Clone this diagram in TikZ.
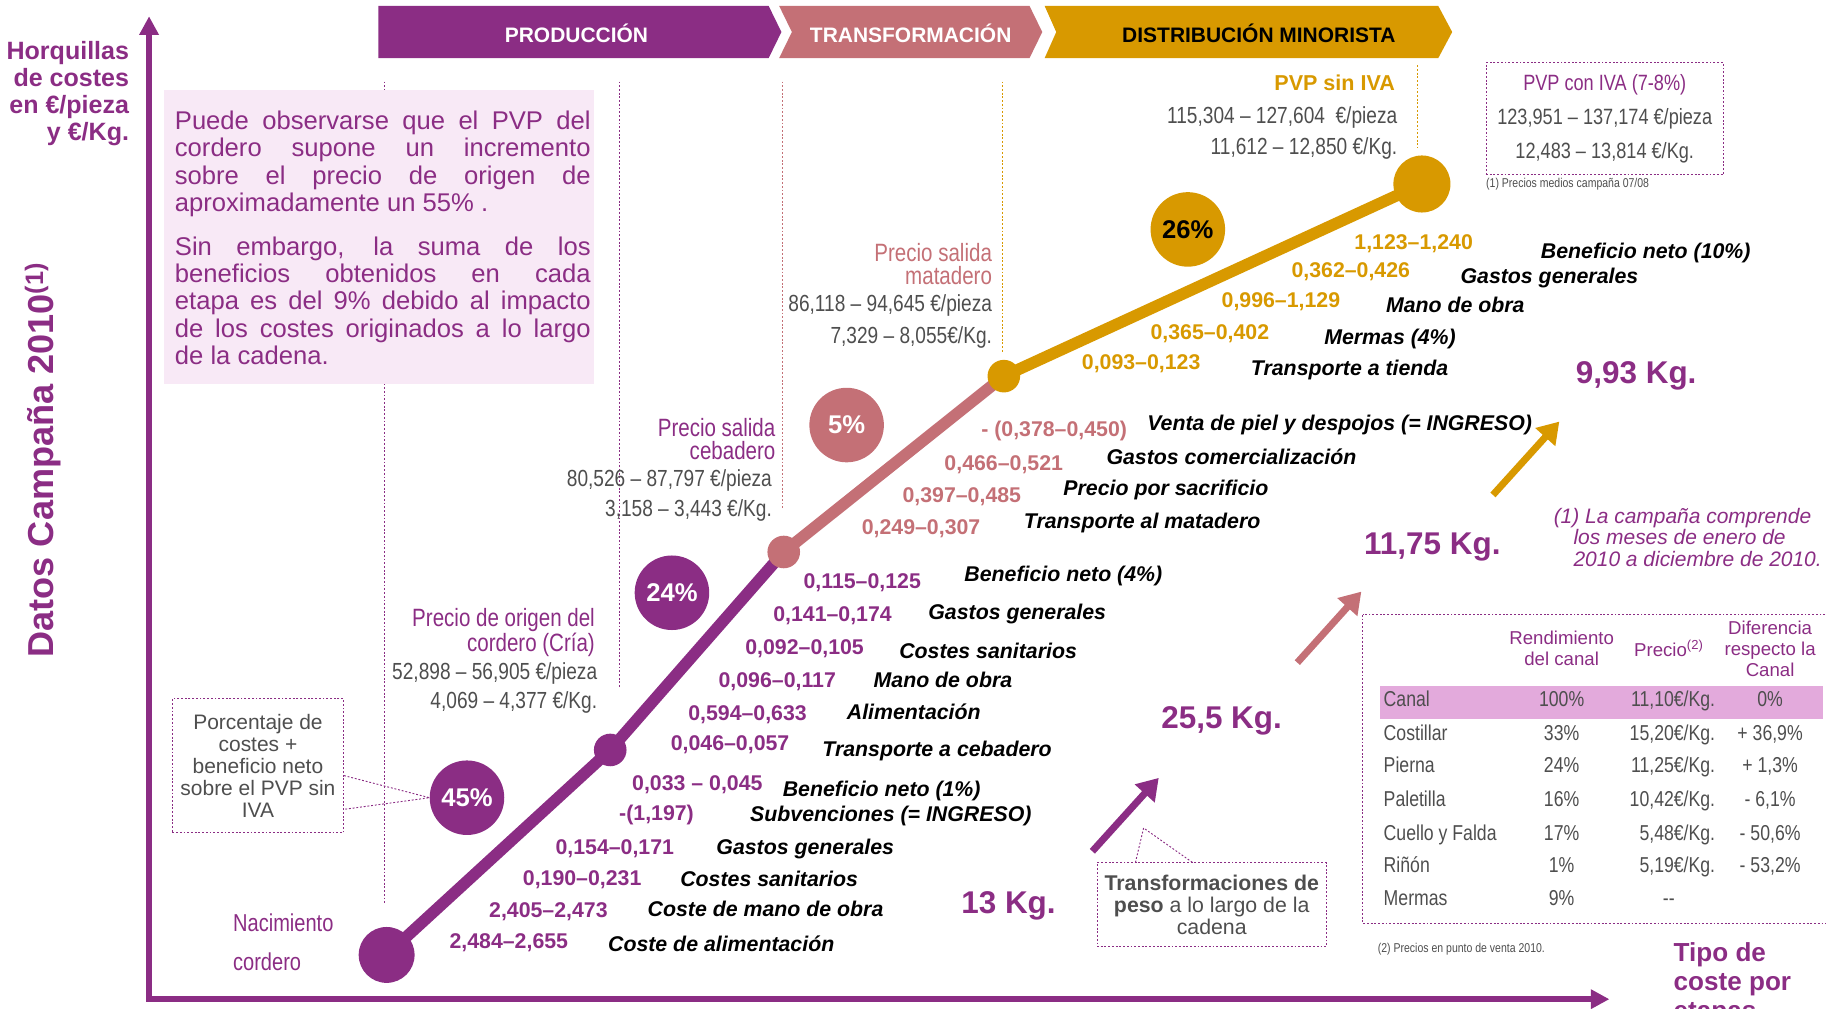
\documentclass[tikz,border=0pt]{standalone}
\usepackage{fontspec}
\setmainfont{Liberation Sans}
\newfontfamily\narrow[FakeStretch=0.82]{Liberation Sans}
\usetikzlibrary{arrows.meta}
\definecolor{lila}{RGB}{139,45,132}
\definecolor{rosa}{RGB}{196,112,118}
\definecolor{oro}{RGB}{216,153,0}
\definecolor{gris}{RGB}{78,78,78}
\definecolor{fondo}{RGB}{248,233,246}
\definecolor{resalte}{RGB}{227,170,220}

\begin{document}
\begin{tikzpicture}[x=1pt, y=-1pt,
    num/.style={font=\bfseries\fontsize{18.3}{20}\selectfont, inner sep=0pt, anchor=mid east},
    lab/.style={font=\bfseries\itshape\fontsize{18.3}{20}\selectfont, inner sep=0pt, anchor=mid west},
    dato/.style={font=\narrow\fontsize{20}{22}\selectfont, text=gris, inner sep=0pt, anchor=mid east},
    etiq/.style={font=\narrow\fontsize{21.5}{20}\selectfont, align=right, inner sep=0pt, anchor=east},
    pct/.style={circle, minimum size=64pt, inner sep=0pt, font=\bfseries\fontsize{22}{24}\selectfont},
    punto/.style={circle, inner sep=0pt},
    kg/.style={font=\bfseries\fontsize{27}{30}\selectfont, text=lila, inner sep=0pt},
    flecha/.style={line width=6pt, -{Triangle[length=18pt,width=22pt]}},
    punteado/.style={draw=lila, line width=0.8pt, dash pattern=on 1.6pt off 1.6pt},
    celda/.style={font=\narrow\fontsize{18.5}{20}\selectfont, text=gris, inner sep=0pt, anchor=mid}
  ]
  \useasboundingbox (0,0) rectangle (1568,866);

  % ejes
  \coordinate (ejeO) at (128,858);
  \coordinate (ejeY) at (128,14);
  \coordinate (ejeX) at (1382,858);
  \draw[lila, line width=5pt, {Triangle[length=16pt,width=16pt]}-{Triangle[length=16pt,width=16pt]}] (ejeY) -- (ejeO) -- (ejeX);
  \node[font=\bfseries\fontsize{21.5}{23.3}\selectfont, text=lila, align=right, inner sep=0pt, anchor=north east] (horq) at (111,35) {Horquillas\\de costes\\en €/pieza\\y €/Kg.};
  \node[font=\bfseries\fontsize{31}{33}\selectfont, text=lila, rotate=90, inner sep=0pt] (datos) at (37,395) {Datos Campaña 2010\textsuperscript{(1)}};
  \node[font=\bfseries\fontsize{22.4}{25}\selectfont, text=lila, align=left, inner sep=0pt, anchor=north west] (tipo) at (1437,809) {Tipo de\\coste por\\etapas};

  % etapas
  \fill[lila] (325,5) -- (660,5) -- (671,27.5) -- (660,50) -- (325,50) -- cycle;
  \fill[rosa] (669,5) -- (884,5) -- (895,27.5) -- (884,50) -- (669,50) -- (680,27.5) -- cycle;
  \fill[oro] (897,5) -- (1235,5) -- (1247,27.5) -- (1235,50) -- (897,50) -- (907,27.5) -- cycle;
  \node[font=\bfseries\fontsize{18}{20}\selectfont, text=white] (prod) at (495,29) {PRODUCCIÓN};
  \node[font=\bfseries\fontsize{18}{20}\selectfont, text=white] (transf) at (782,29) {TRANSFORMACIÓN};
  \node[font=\bfseries\fontsize{18}{20}\selectfont] (distr) at (1081,29) {DISTRIBUCIÓN MINORISTA};

  % separadores
  \draw[punteado] (330,70) -- (330,777);
  \draw[punteado] (532,70) -- (532,591);
  \draw[punteado, draw=rosa] (672,70) -- (672,436);
  \draw[punteado, draw=oro] (861,70) -- (861,302);
  \draw[punteado, draw=oro] (1217,56) -- (1217,127);

  % cuadro de texto
  \fill[fondo] (141,77) rectangle (510,330);
  \node[font=\fontsize{22}{23.5}\selectfont, text=lila, text width=357pt, align=justify, inner sep=0pt, anchor=north west] (texto1) at (150,95)
    {Puede observarse que el PVP del\linebreak cordero supone un incremento\linebreak sobre el precio de origen de\linebreak aproximadamente un 55\% .};
  \node[font=\fontsize{22}{23.5}\selectfont, text=lila, text width=357pt, align=justify, inner sep=0pt, anchor=north west] (texto2) at (150,203)
    {Sin embargo, la suma de los\linebreak beneficios obtenidos en cada\linebreak etapa es del 9\% debido al impacto\linebreak de los costes originados a lo largo\linebreak de la cadena.};

  % cadena
  \coordinate (cNac) at (332,820);
  \coordinate (cOri) at (524,644);
  \coordinate (cCeb) at (673,474);
  \coordinate (cMat) at (862,323);
  \coordinate (cPvp) at (1221,158);
  \draw[lila, line width=10pt] (cNac) -- (cOri) -- (cCeb);
  \draw[rosa, line width=10pt] (cCeb) -- (cMat);
  \draw[oro, line width=10pt] (cMat) -- (cPvp);
  \node[punto, fill=lila, minimum size=48pt] (nac) at (cNac) {};
  \node[punto, fill=lila, minimum size=28pt] (ori) at (cOri) {};
  \node[punto, fill=rosa, minimum size=28pt] (ceb) at (cCeb) {};
  \node[punto, fill=oro, minimum size=28pt] (mat) at (cMat) {};
  \node[punto, fill=oro, minimum size=49pt] (pvp) at (cPvp) {};

  \node[pct, fill=lila, text=white] (p45) at (401,685) {45\%};
  \node[pct, fill=lila, text=white] (p24) at (577,509) {24\%};
  \node[pct, fill=rosa, text=white] (p5) at (727,365) {5\%};
  \node[pct, fill=oro] (p26) at (1020,197) {26\%};

  \node[punteado, minimum width=147pt, minimum height=115pt, align=center, text=gris, font=\fontsize{18}{19}\selectfont, inner sep=0pt] (nota) at (221.5,657.5)
    {Porcentaje de\\costes +\\beneficio neto\\sobre el PVP sin\\IVA};
  \draw[punteado] ([yshift=-8.5pt]nota.east) -- (p45.west) -- ([yshift=-37.5pt]nota.east);

  % precios
  \node[font=\narrow\fontsize{21}{34}\selectfont, text=lila, align=left, inner sep=0pt, anchor=west] (nacTxt) at (200,809) {Nacimiento\\cordero};
  \node[etiq, text=lila] (oriTxt) at (511,543) {Precio de origen del\\cordero (Cría)};
  \node[dato] (ori1) at (513,581) {52,898 – 56,905 €/pieza};
  \node[dato] (ori2) at (513,606) {4,069 – 4,377 €/Kg.};
  \node[etiq, text=lila] (cebTxt) at (666,377) {Precio salida\\cebadero};
  \node[dato] (ceb1) at (663,415) {80,526 – 87,797 €/pieza};
  \node[dato] (ceb2) at (663,441) {3,158 – 3,443 €/Kg.};
  \node[etiq, text=rosa] (matTxt) at (852,227) {Precio salida\\matadero};
  \node[dato] (mat1) at (852,265) {86,118 – 94,645 €/pieza};
  \node[dato] (mat2) at (852,292) {7,329 – 8,055€/Kg.};
  \node[font=\bfseries\fontsize{18.5}{20}\selectfont, text=oro, inner sep=0pt, anchor=mid east] (pvpTxt) at (1198,75) {PVP sin IVA};
  \node[dato] (pvp1) at (1200,103) {115,304 – 127,604 \ €/pieza};
  \node[dato] (pvp2) at (1200,130) {11,612 – 12,850 €/Kg.};
  \node[punteado, minimum width=204pt, minimum height=96pt, align=center, text=gris, font=\narrow\fontsize{19}{29}\selectfont, inner sep=0pt] (iva) at (1378,102)
    {{\color{lila}PVP con IVA (7-8\%)}\\123,951 – 137,174 €/pieza\\12,483 – 13,814 €/Kg.};
  \node[font=\narrow\fontsize{11}{12}\selectfont, text=gris, inner sep=0pt, anchor=mid west] (ivaNota) at (1276,158) {(1) Precios medios campaña 07/08};

  % produccion
  \node[num, text=lila] (v1) at (488,812) {2,484–2,655};
  \node[lab] (t1) at (522,814) {Coste de alimentación};
  \node[num, text=lila] (v2) at (522,785) {2,405–2,473};
  \node[lab] (t2) at (556,784) {Coste de mano de obra};
  \node[num, text=lila] (v3) at (551,758) {0,190–0,231};
  \node[lab] (t3) at (584,759) {Costes sanitarios};
  \node[num, text=lila] (v4) at (579,731) {0,154–0,171};
  \node[lab] (t4) at (615,731) {Gastos generales};
  \node[num, text=lila] (v5) at (596,702) {-(1,197)};
  \node[lab] (t5) at (644,703) {Subvenciones (= INGRESO)};
  \node[num, text=lila] (v6) at (655,676) {0,033 – 0,045};
  \node[lab] (t6) at (672,681) {Beneficio neto (1\%)};
  % cebadero
  \node[num, text=lila] (v7) at (678,642) {0,046–0,057};
  \node[lab] (t7) at (706,647) {Transporte a cebadero};
  \node[num, text=lila] (v8) at (693,616) {0,594–0,633};
  \node[lab] (t8) at (727,615) {Alimentación};
  \node[num, text=lila] (v9) at (718,588) {0,096–0,117};
  \node[lab] (t9) at (750,588) {Mano de obra};
  \node[num, text=lila] (v10) at (742,559) {0,092–0,105};
  \node[lab] (t10) at (772,563) {Costes sanitarios};
  \node[num, text=lila] (v11) at (766,531) {0,141–0,174};
  \node[lab] (t11) at (797,529) {Gastos generales};
  \node[num, text=lila] (v12) at (791,503) {0,115–0,125};
  \node[lab] (t12) at (828,497) {Beneficio neto (4\%)};
  % matadero
  \node[num, text=rosa] (v13) at (842,456) {0,249–0,307};
  \node[lab] (t13) at (879,451) {Transporte al matadero};
  \node[num, text=rosa] (v14) at (877,429) {0,397–0,485};
  \node[lab] (t14) at (913,423) {Precio por sacrificio};
  \node[num, text=rosa] (v15) at (913,401) {0,466–0,521};
  \node[lab] (t15) at (950,396) {Gastos comercialización};
  \node[num, text=rosa] (v16) at (968,372) {- (0,378–0,450)};
  \node[lab] (t16) at (985,367) {Venta de piel y despojos (= INGRESO)};
  % minorista
  \node[num, text=oro] (v17) at (1031,315) {0,093–0,123};
  \node[lab] (t17) at (1074,320) {Transporte a tienda};
  \node[num, text=oro] (v18) at (1090,289) {0,365–0,402};
  \node[lab] (t18) at (1137,293) {Mermas (4\%)};
  \node[num, text=oro] (v19) at (1151,261) {0,996–1,129};
  \node[lab] (t19) at (1190,266) {Mano de obra};
  \node[num, text=oro] (v20) at (1211,236) {0,362–0,426};
  \node[lab] (t20) at (1254,241) {Gastos generales};
  \node[num, text=oro] (v21) at (1265,212) {1,123–1,240};
  \node[lab] (t21) at (1323,219) {Beneficio neto (10\%)};

  % pesos
  \node[kg] (kg13) at (866,778) {13 Kg.};
  \node[kg] (kg25) at (1049,619) {25,5 Kg.};
  \node[kg] (kg11) at (1230,470) {11,75 Kg.};
  \node[kg] (kg9) at (1405,323) {9,93 Kg.};
  \coordinate (f1a) at (938,731); \coordinate (f1b) at (995,668);
  \coordinate (f2a) at (1114,569); \coordinate (f2b) at (1169,508);
  \coordinate (f3a) at (1282,425); \coordinate (f3b) at (1339,362);
  \draw[flecha, lila] (f1a) -- (f1b);
  \draw[flecha, rosa] (f2a) -- (f2b);
  \draw[flecha, oro] (f3a) -- (f3b);

  \node[punteado, minimum width=197pt, minimum height=72pt, align=center, text=gris, font=\fontsize{18.3}{19}\selectfont, inner sep=0pt] (trans) at (1040.5,777)
    {\textbf{Transformaciones de}\\\textbf{peso} a lo largo de la\\cadena};
  \coordinate (punta) at (982,711);
  \draw[punteado] ([xshift=-65.5pt]trans.north) -- (punta) -- ([xshift=-16.5pt]trans.north);

  \node[font=\itshape\fontsize{18}{18.5}\selectfont, text=lila, align=left, inner sep=0pt, anchor=north west] (campana) at (1334,436)
    {(1) La campaña comprende\\\hspace*{17pt}los meses de enero de\\\hspace*{17pt}2010 a diciembre de 2010.};

  % tabla
  \draw[punteado] (1170,528) rectangle (1590,793);
  \fill[resalte] (1185,589) rectangle (1565,617);
  \node[font=\fontsize{16}{18}\selectfont, text=lila, align=center, inner sep=0pt] (hRend) at (1341,557) {Rendimiento\\del canal};
  \node[font=\fontsize{16}{18}\selectfont, text=lila, align=center, inner sep=0pt] (hPrec) at (1433,557) {Precio\textsuperscript{(2)}};
  \node[font=\fontsize{16}{18}\selectfont, text=lila, align=center, inner sep=0pt] (hDif) at (1520,557) {Diferencia\\respecto la\\Canal};

  \node[celda, anchor=mid west] (r1) at (1188,604) {Canal};
  \node[celda] (r1b) at (1341,604) {100\%};
  \node[celda, anchor=mid east] (r1c) at (1473,604) {11,10€/Kg.};
  \node[celda] (r1d) at (1520,604) {0\%};
  \node[celda, anchor=mid west] (r2) at (1188,633) {Costillar};
  \node[celda] (r2b) at (1341,633) {33\%};
  \node[celda, anchor=mid east] (r2c) at (1473,633) {15,20€/Kg.};
  \node[celda] (r2d) at (1520,633) {+ 36,9\%};
  \node[celda, anchor=mid west] (r3) at (1188,661) {Pierna};
  \node[celda] (r3b) at (1341,661) {24\%};
  \node[celda, anchor=mid east] (r3c) at (1473,661) {11,25€/Kg.};
  \node[celda] (r3d) at (1520,661) {+ 1,3\%};
  \node[celda, anchor=mid west] (r4) at (1188,690) {Paletilla};
  \node[celda] (r4b) at (1341,690) {16\%};
  \node[celda, anchor=mid east] (r4c) at (1473,690) {10,42€/Kg.};
  \node[celda] (r4d) at (1520,690) {- 6,1\%};
  \node[celda, anchor=mid west] (r5) at (1188,719) {Cuello y Falda};
  \node[celda] (r5b) at (1341,719) {17\%};
  \node[celda, anchor=mid east] (r5c) at (1473,719) {5,48€/Kg.};
  \node[celda] (r5d) at (1520,719) {- 50,6\%};
  \node[celda, anchor=mid west] (r6) at (1188,747) {Riñón};
  \node[celda] (r6b) at (1341,747) {1\%};
  \node[celda, anchor=mid east] (r6c) at (1473,747) {5,19€/Kg.};
  \node[celda] (r6d) at (1520,747) {- 53,2\%};
  \node[celda, anchor=mid west] (r7) at (1188,775) {Mermas};
  \node[celda] (r7b) at (1341,775) {9\%};
  \node[celda] (r7c) at (1433,775) {--};
  \node[font=\narrow\fontsize{11}{12}\selectfont, text=gris, inner sep=0pt, anchor=mid west] (tablaNota) at (1183,815) {(2) Precios en punto de venta 2010.};
\end{tikzpicture}
\end{document}
